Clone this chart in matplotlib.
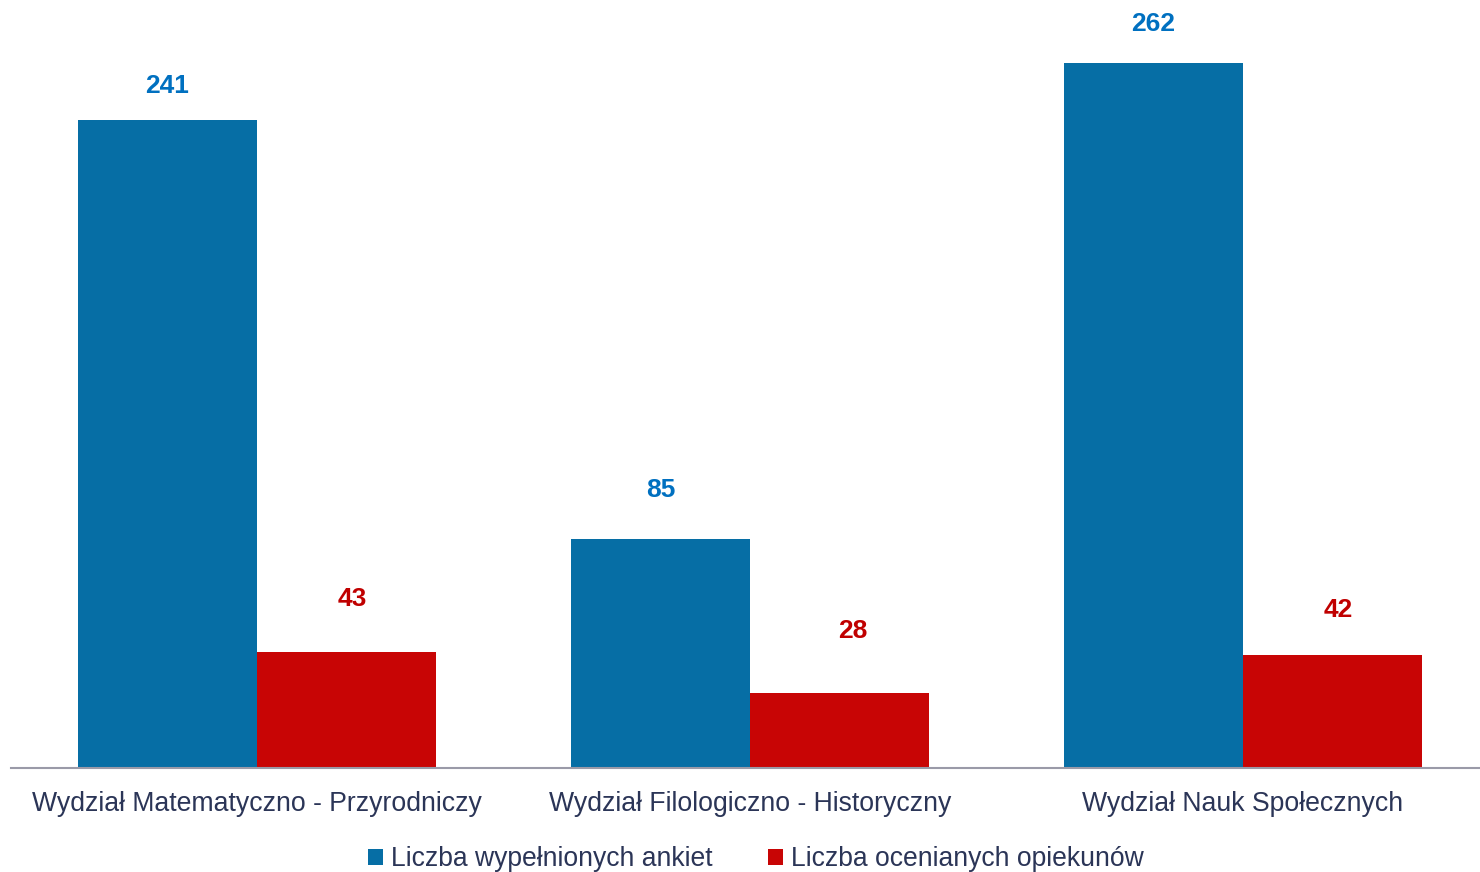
import matplotlib
matplotlib.use("Agg")
import matplotlib.pyplot as plt
import numpy as np
from matplotlib.patches import Patch

categories = ["Wydział Matematyczno - Przyrodniczy",
              "Wydział Filologiczno - Historyczny",
              "Wydział Nauk Społecznych"]
series_names = ["Liczba wypełnionych ankiet", "Liczba ocenianych opiekunów"]
ankiety = [241, 85, 262]
opiekunowie = [43, 28, 42]

# label offsets relative to bar top centre (points)
off_a = [(0, 16), (0, 27), (0, 20)]
off_o = [(4.5, 30), (9.5, 36), (4, 24)]

plt.rcParams['font.family'] = ['Liberation Sans', 'DejaVu Sans']
fig = plt.figure(figsize=(14.8, 8.72), dpi=100)
ax = fig.add_axes([10.5/1480, 104/872, 1479/1480, 768/872])

bar_c = ["#066EA5", "#C80505"]
lab_c = ["#0070C0", "#C00000"]
text_c = "#2B3557"
x = np.arange(len(categories))
w = 179/493

b1 = ax.bar(x - w/2, ankiety, w, color=bar_c[0], edgecolor="none")
b2 = ax.bar(x + w/2, opiekunowie, w, color=bar_c[1], edgecolor="none")

for bars, vals, offs, c in [(b1, ankiety, off_a, lab_c[0]), (b2, opiekunowie, off_o, lab_c[1])]:
    for r, v, o in zip(bars, vals, offs):
        ax.annotate(str(v), (r.get_x() + r.get_width()/2, v), xytext=o,
                    textcoords="offset points", ha="center", va="bottom",
                    fontsize=19, fontweight="bold", color=c)

ax.set_xlim(-0.5, 2.5)
ax.set_ylim(0, 768/2.689)
for s in ["top", "right", "left"]:
    ax.spines[s].set_visible(False)
ax.spines["bottom"].set_color("#9A9AA8")
ax.spines["bottom"].set_linewidth(1.5)
ax.set_yticks([])
ax.set_xticks(x)
ax.set_xticklabels(categories, fontsize=19.2, color=text_c)
ax.tick_params(axis="x", length=0, pad=16.5)

handles = [Patch(facecolor=bar_c[0]), Patch(facecolor=bar_c[1])]
fig.legend(handles, series_names, loc="center", bbox_to_anchor=(756/1480, 1 - 859/872),
           ncol=2, frameon=False, fontsize=19.1, labelcolor=text_c,
           handlelength=0.55, handleheight=0.55, handletextpad=0.3, columnspacing=2.1)

fig.savefig("out.png", dpi=100)
